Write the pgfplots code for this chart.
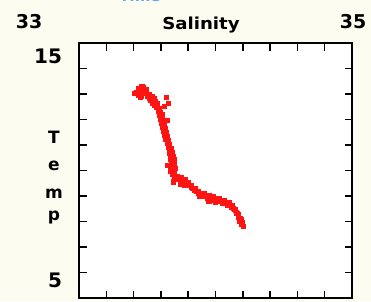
\documentclass[border=0pt]{standalone}
\usepackage{pgfplots}
\pgfplotsset{compat=1.18}
\usepackage{fontspec}
\setmainfont{DejaVu Sans}
\definecolor{bgc}{RGB}{253,252,241}
\definecolor{ptred}{RGB}{255,20,20}
\definecolor{topblue}{RGB}{90,170,250}
\pgfplotstableread{
x y
33.447 13.118
33.469 13.196
33.484 13.039
33.432 12.961
33.498 12.922
33.520 12.882
33.542 12.804
33.557 12.725
33.535 12.647
33.571 12.529
33.579 12.373
33.593 12.216
33.601 12.059
33.608 11.902
33.615 11.745
33.623 11.588
33.630 11.431
33.637 11.275
33.645 11.118
33.659 10.961
33.667 10.804
33.674 10.647
33.681 10.490
33.681 10.333
33.689 10.176
33.681 10.020
33.681 9.863
33.696 9.745
33.725 9.667
33.755 9.627
33.784 9.549
33.806 9.431
33.828 9.314
33.857 9.196
33.886 9.078
33.923 9.000
33.960 8.922
33.996 8.882
34.033 8.804
34.070 8.725
34.099 8.647
34.128 8.529
34.150 8.373
34.165 8.216
34.179 8.059
34.187 7.902
33.461 13.038
33.483 13.116
33.498 12.959
33.446 12.881
33.512 12.842
33.534 12.802
33.556 12.724
33.571 12.645
33.549 12.567
33.585 12.449
33.593 12.293
33.607 12.136
33.615 11.979
33.622 11.822
33.629 11.665
33.637 11.508
33.644 11.351
33.651 11.195
33.659 11.038
33.673 10.881
33.681 10.724
33.688 10.567
33.695 10.410
33.695 10.253
33.703 10.096
33.695 9.940
33.695 9.783
33.710 9.665
33.739 9.587
33.769 9.547
33.798 9.469
33.820 9.351
33.842 9.234
33.871 9.116
33.900 8.998
33.937 8.920
33.974 8.842
34.010 8.802
34.047 8.724
34.084 8.645
34.113 8.567
34.142 8.449
34.164 8.293
34.179 8.136
34.193 7.979
34.201 7.822
33.437 13.218
33.459 13.296
33.474 13.139
33.422 13.061
33.488 13.022
33.510 12.982
33.532 12.904
33.547 12.825
33.525 12.747
33.561 12.629
33.569 12.473
33.583 12.316
33.591 12.159
33.598 12.002
33.605 11.845
33.613 11.688
33.620 11.531
33.627 11.375
33.635 11.218
33.649 11.061
33.657 10.904
33.664 10.747
33.671 10.590
33.671 10.433
33.679 10.276
33.671 10.120
33.671 9.963
33.686 9.845
33.715 9.767
33.745 9.727
33.774 9.649
33.796 9.531
33.818 9.414
33.847 9.296
33.876 9.178
33.913 9.100
33.950 9.022
33.986 8.982
34.023 8.904
34.060 8.825
34.089 8.747
34.118 8.629
34.140 8.473
34.155 8.316
34.169 8.159
34.177 8.002
33.469 13.275
33.403 13.039
33.637 12.882
33.652 12.647
33.623 12.529
33.645 11.980
33.520 12.765
33.454 12.922
33.491 13.196
33.700 9.700
33.690 9.560
33.740 9.480
33.770 9.420
33.660 10.700
33.650 10.200
33.700 10.450
33.620 11.900
33.610 12.200
33.880 9.000
33.950 8.800
34.000 8.780
34.100 8.750
34.190 8.100
}\ctdata
\begin{document}
\begin{tikzpicture}
\clip (0pt,0pt) rectangle (371pt,301pt);
\fill[bgc] (0pt,0pt) rectangle (371pt,301pt);
\begin{axis}[
  at={(79pt,3pt)}, anchor=south west,
  scale only axis, width=273pt, height=255pt,
  xmin=33, xmax=35, ymin=5, ymax=15,
  axis background/.style={fill=white},
  axis line style={line width=1.8pt, black},
  xtick={33.2,33.4,33.6,33.8,34.0,34.2,34.4,34.6,34.8},
  ytick={6,7,8,9,10,11,12,13,14},
  xticklabels={}, yticklabels={},
  tick align=inside, major tick length=7.5pt,
  tick style={line width=1.5pt, black},
  xtick pos=both, ytick pos=both,
  clip=false,
]
\addplot[only marks, mark=square*, mark size=2.1pt, color=ptred, mark options={draw=ptred, fill=ptred}] table[x=x,y=y] {\ctdata};
\end{axis}
\begin{scope}[every node/.style={font=\bfseries, inner sep=0pt}]
\node[anchor=base, font=\fontsize{15}{15}\selectfont\bfseries, text=topblue] at (140pt,300pt) {Time};
\node[anchor=base, font=\fontsize{19}{19}\selectfont\bfseries] at (29pt,273pt) {33};
\node[anchor=base, font=\fontsize{19}{19}\selectfont\bfseries] at (353pt,273pt) {35};
\node[anchor=base, xscale=1.1, font=\fontsize{16.5}{16.5}\selectfont\bfseries] at (201pt,272pt) {Salinity};
\node[anchor=base, font=\fontsize{20}{20}\selectfont\bfseries] at (48pt,238pt) {15};
\node[anchor=base, font=\fontsize{20}{20}\selectfont\bfseries] at (55pt,14pt) {5};
\node[anchor=base, font=\fontsize{17}{17}\selectfont\bfseries] at (54pt,158pt) {T};
\node[anchor=base, font=\fontsize{17}{17}\selectfont\bfseries] at (54pt,131pt) {e};
\node[anchor=base, font=\fontsize{17}{17}\selectfont\bfseries] at (54pt,103pt) {m};
\node[anchor=base, font=\fontsize{17}{17}\selectfont\bfseries] at (54pt,81pt) {p};
\end{scope}
\end{tikzpicture}
\end{document}
